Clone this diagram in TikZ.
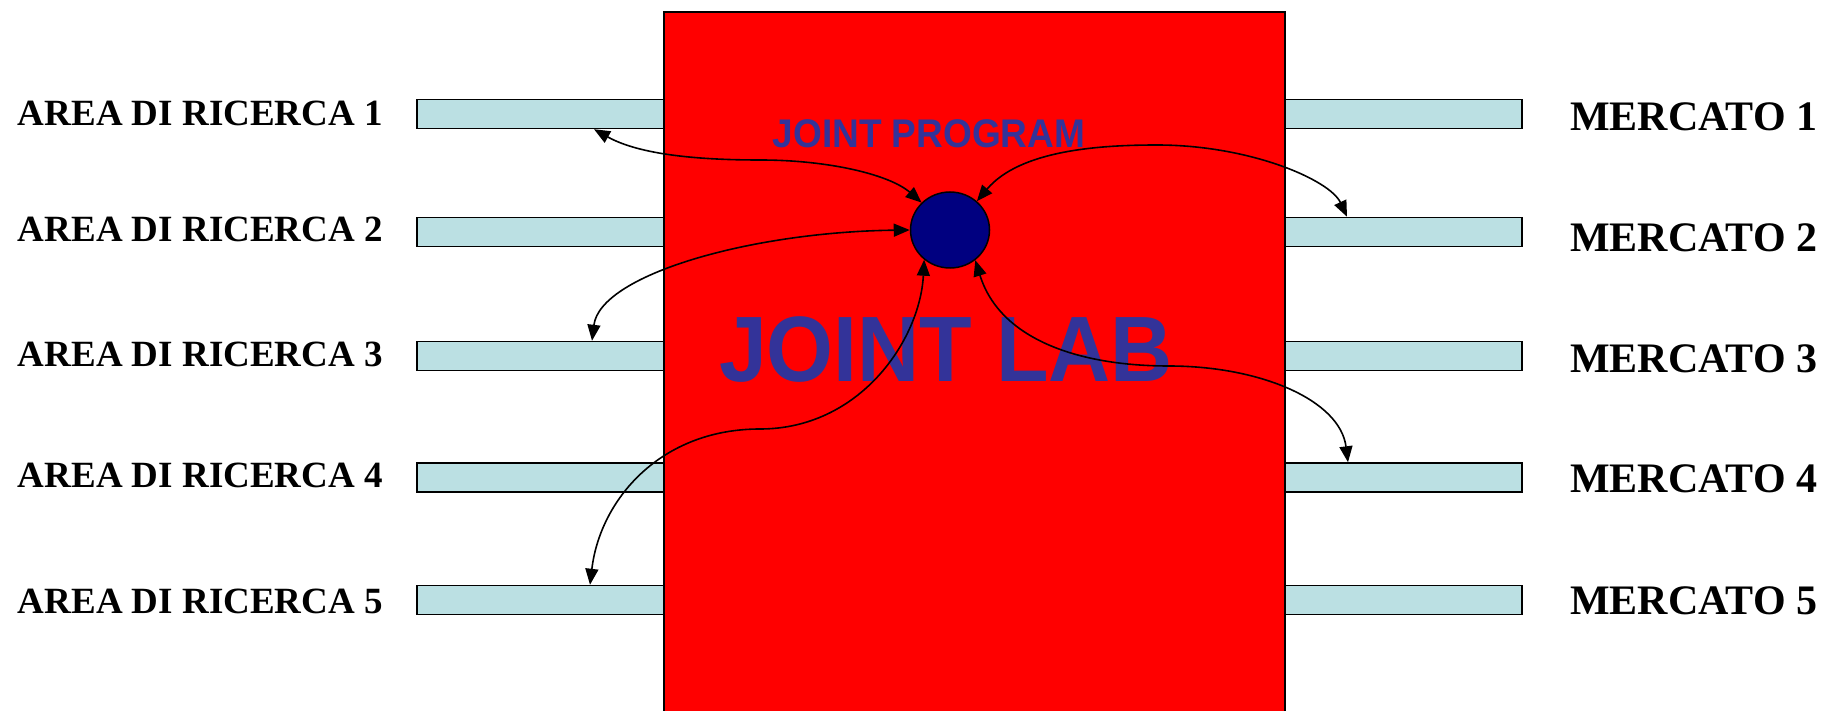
\documentclass[tikz,border=0pt]{standalone}
\usepackage{fontspec}
\setmainfont{Liberation Serif}
\newfontfamily\arialfont{Liberation Sans}
\usetikzlibrary{arrows.meta,shapes.geometric,calc}
\definecolor{barblue}{HTML}{BBE0E3}
\definecolor{labred}{HTML}{FF0000}
\definecolor{jpnavy}{HTML}{000080}
\definecolor{txtblue}{HTML}{333399}
\begin{document}
\begin{tikzpicture}[x=1pt,y=-1pt,
  bar/.style={draw=black,line width=1.5pt,fill=barblue,minimum width=247pt,minimum height=29pt,inner sep=0pt},
  rbar/.style={bar,minimum width=237pt},
  llabel/.style={anchor=east,inner sep=0pt,font=\bfseries\fontsize{37}{37}\selectfont},
  rlabel/.style={anchor=west,inner sep=0pt,font=\bfseries\fontsize{42}{42}\selectfont},
  link/.style={line width=1.6pt,>={Triangle[length=16pt,width=13pt]},<->}]
\useasboundingbox (0,0) rectangle (1833,711);
% bars
\foreach \i/\y in {1/114,2/232,3/356,4/477.5,5/600}{
  \node[bar] (l\i) at (540.5,\y) {};
  \node[rbar] (r\i) at (1403.5,\y) {};
}
\node[llabel] (t1) at (383,113) {AREA DI RICERCA 1};
\node[llabel] (t2) at (383,229) {AREA DI RICERCA 2};
\node[llabel] (t3) at (383,354) {AREA DI RICERCA 3};
\node[llabel] (t4) at (383,475) {AREA DI RICERCA 4};
\node[llabel] (t5) at (383,601) {AREA DI RICERCA 5};
\node[rlabel] (m1) at (1570,117) {MERCATO 1};
\node[rlabel] (m2) at (1570,238) {MERCATO 2};
\node[rlabel] (m3) at (1570,359) {MERCATO 3};
\node[rlabel] (m4) at (1570,479) {MERCATO 4};
\node[rlabel] (m5) at (1570,601) {MERCATO 5};
% central red box
\node[draw=black,line width=1.5pt,fill=labred,minimum width=621pt,minimum height=708pt,inner sep=0pt] (lab) at (974.5,366) {};
\node[inner sep=0pt,text=txtblue,font=\arialfont\bfseries\fontsize{37}{37}\selectfont,yscale=1.08] (jptext) at (929,134) {JOINT PROGRAM};
\node[inner sep=0pt,text=txtblue,font=\arialfont\bfseries\fontsize{86}{86}\selectfont,yscale=1.08] (labtext) at (946,350) {JOINT LAB};
\node[ellipse,draw=black,line width=1.5pt,fill=jpnavy,minimum width=79pt,minimum height=76pt,inner sep=0pt] (jp) at (950,230) {};
% connectors
\draw[link] (l1.south -| 594,0) .. controls (640,155) and (700,160) .. (760,160) .. controls (830,160) and (890,175) .. (jp.136);
\draw[link] (jp.47) .. controls (1020,150) and (1100,145) .. (1157,145) .. controls (1250,145) and (1330,180) .. (r2.north -| 1347,0);
\draw[link] (jp.west) .. controls (750,232) and (600,275) .. (l3.north -| 592,0);
\draw[link] (jp.229) .. controls (920,340) and (860,429) .. (760,429) .. controls (660,429) and (600,500) .. (l5.north -| 590,0);
\draw[link] (jp.310) .. controls (1000,340) and (1080,366) .. (1169,366) .. controls (1260,366) and (1340,400) .. (r4.north -| 1348,0);
\end{tikzpicture}
\end{document}
